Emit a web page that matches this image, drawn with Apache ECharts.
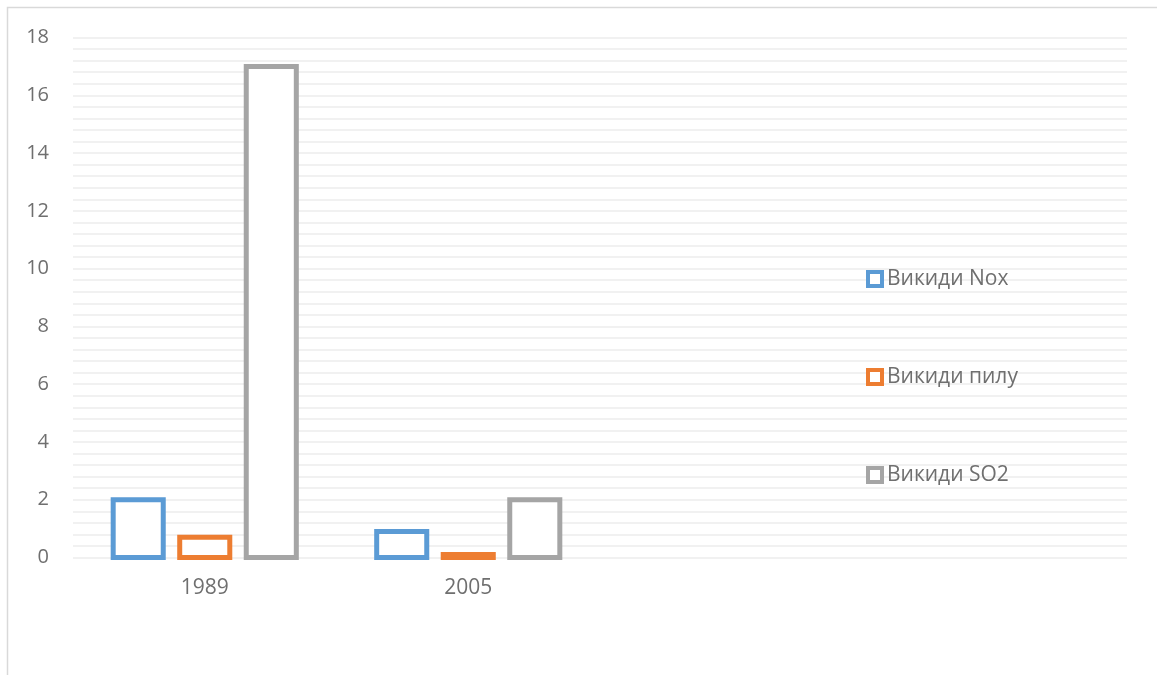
<!DOCTYPE html>
<html>
<head>
<meta charset="utf-8">
<script src="https://cdn.jsdelivr.net/npm/echarts@6/dist/echarts.min.js"></script>
<style>
html,body{margin:0;padding:0;background:#fff;}
#chart{width:1157px;height:675px;}
</style>
</head>
<body>
<div id="chart"></div>
<script>
var categories = ['1989', '2005', '', ''];
var seriesNames = ['Викиди Nox', 'Викиди пилу', 'Викиди SO2'];
var noxValues = [2.0, 0.9, null, null];
var dustValues = [0.7, 0.1, null, null];
var so2Values = [17.0, 2.0, null, null];
var yMin = 0, yMax = 18, yStep = 0.4, yLabelStep = 2;

var colors = ['#5B9BD5', '#ED7D31', '#A5A5A5'];
var font = '"Open Sans", "Liberation Sans", sans-serif';
var textColor = '#6f6f6f';

var BAR_W_FRAC = 0.19;     // bar width as fraction of category band
var BAR_STEP_FRAC = 0.2525; // distance between bar centres as fraction of band
var BORDER = 5;

function makeSeries(idx, name, values, color) {
  var data = [];
  values.forEach(function (v, i) { if (v !== null) data.push([i, v]); });
  return {
    name: name,
    type: 'custom',
    data: data,
    encode: { x: 0, y: 1 },
    itemStyle: { color: '#ffffff', borderColor: color, borderWidth: BORDER },
    emphasis: { disabled: true },
    renderItem: function (params, api) {
      var c = api.value(0), v = api.value(1);
      var base = api.coord([c, 0]);
      var top = api.coord([c, v]);
      var band = api.size([1, 0])[0];
      var w = band * BAR_W_FRAC;
      var cx = base[0] + (idx - 1) * band * BAR_STEP_FRAC;
      return {
        type: 'rect',
        shape: { x: cx - w / 2, y: top[1], width: w, height: base[1] - top[1] },
        style: { fill: '#ffffff', stroke: color, lineWidth: BORDER }
      };
    }
  };
}

var chart = echarts.init(document.getElementById('chart'), null, { renderer: 'canvas' });
chart.setOption({
  animation: false,
  backgroundColor: '#ffffff',
  textStyle: { fontFamily: font },
  graphic: [{
    type: 'rect',
    silent: true,
    z: -10,
    shape: { x: 7.5, y: 7.5, width: 1170, height: 700 },
    style: { fill: null, stroke: '#d9d9d9', lineWidth: 1.5 }
  }],
  grid: { left: 73, right: 30, top: 37.5, bottom: 117.5, containLabel: false },
  legend: {
    orient: 'vertical',
    left: 861,
    top: 263,
    itemWidth: 14,
    itemHeight: 14,
    itemGap: 76,
    icon: 'rect',
    textStyle: { fontFamily: font, fontSize: 21, color: textColor, lineHeight: 22 },
    data: seriesNames.map(function (n, i) {
      return { name: n, icon: 'rect', itemStyle: { color: '#ffffff', borderColor: colors[i], borderWidth: 4 } };
    })
  },
  xAxis: {
    type: 'category',
    data: categories,
    axisLine: { show: false },
    axisTick: { show: false },
    axisLabel: { fontFamily: font, fontSize: 21, color: textColor, margin: 20 },
    splitLine: { show: false }
  },
  yAxis: {
    type: 'value',
    min: yMin,
    max: yMax,
    interval: yStep,
    axisLine: { show: false },
    axisTick: { show: false },
    axisLabel: {
      fontFamily: font, fontSize: 20, color: textColor, margin: 24,
      formatter: function (v) {
        var r = v / yLabelStep;
        return Math.abs(r - Math.round(r)) < 1e-6 ? String(Math.round(v)) : '';
      }
    },
    splitLine: { show: true, lineStyle: { color: '#ececec', width: 1.5 } }
  },
  series: [
    makeSeries(0, seriesNames[0], noxValues, colors[0]),
    makeSeries(1, seriesNames[1], dustValues, colors[1]),
    makeSeries(2, seriesNames[2], so2Values, colors[2])
  ]
});
</script>
</body>
</html>
